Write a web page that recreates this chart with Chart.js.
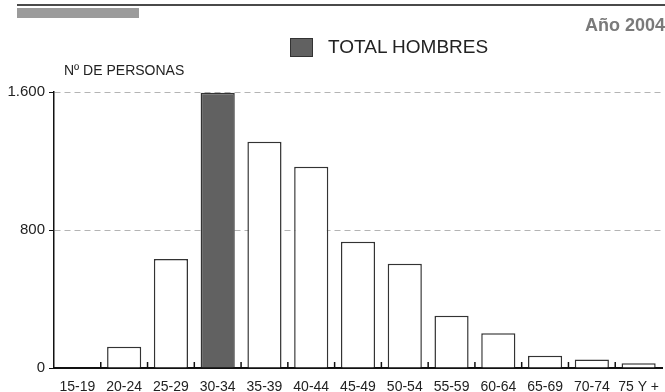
<!DOCTYPE html>
<html>
<head>
<meta charset="utf-8">
<script src="https://cdn.jsdelivr.net/npm/chart.js@4.4.0/dist/chart.umd.min.js"></script>
<style>
  body { margin: 0; background: #fff; }
  #wrap { position: relative; width: 665px; height: 392px; overflow: hidden; font-family: "Liberation Sans", Arial, sans-serif; }
  #topline { position: absolute; left: 17px; width: 648px; top: 4px; height: 2px; background: #4a4a4a; z-index: 2; }
  #greybar { position: absolute; left: 17px; top: 8px; width: 122px; height: 10px; background: #9b9b9b; z-index: 2; }
  #year { position: absolute; right: 0; top: 15px; font-size: 18px; font-weight: bold; color: #7a7a7a; z-index: 2; }
  #legend { position: absolute; left: 290px; top: 37px; height: 20px; display: flex; align-items: center; z-index: 2; }
  #legend .box { width: 21px; height: 17px; background: #616161; border: 1px solid #333; }
  #legend span { margin-left: 15px; font-size: 19px; color: #222; }
  #ylabel { position: absolute; left: 64px; top: 62px; font-size: 14px; color: #222; z-index: 2; }
  canvas { position: absolute; left: 0; top: 0; z-index: 1; }
</style>
</head>
<body>
<div id="wrap">
  <canvas id="chart" width="665" height="392"></canvas>
  <div id="topline"></div>
  <div id="greybar"></div>
  <div id="year">Año 2004</div>
  <div id="legend"><div class="box"></div><span>TOTAL HOMBRES</span></div>
  <div id="ylabel">Nº DE PERSONAS</div>
</div>
<script>
const ageGroups = ["15-19", "20-24", "25-29", "30-34", "35-39", "40-44", "45-49", "50-54", "55-59", "60-64", "65-69", "70-74", "75 Y +"];
const totalHombres = [4, 123, 632, 1595, 1312, 1167, 732, 605, 303, 201, 71, 50, 27];
const yTicks = [0, 800, 1600];
const highlightGroup = "30-34";

const labelFont = { family: "'Liberation Sans', Arial, sans-serif", size: 14 };

// small upward tick marks between categories on the x axis
const innerTicks = {
  id: "innerTicks",
  afterDatasetsDraw(chart) {
    const x = chart.scales.x;
    const ctx = chart.ctx;
    const bottom = chart.chartArea.bottom;
    ctx.save();
    ctx.strokeStyle = "#111";
    ctx.lineWidth = 1.5;
    for (let i = 1; i < ageGroups.length; i++) {
      const px = (x.getPixelForTick(i - 1) + x.getPixelForTick(i)) / 2;
      ctx.beginPath();
      ctx.moveTo(px, bottom);
      ctx.lineTo(px, bottom - 6);
      ctx.stroke();
    }
    ctx.restore();
  },
};

const ctx = document.getElementById("chart").getContext("2d");
new Chart(ctx, {
  type: "bar",
  data: {
    labels: ageGroups,
    datasets: [
      {
        label: "TOTAL HOMBRES",
        data: totalHombres,
        backgroundColor: ageGroups.map((g) => (g === highlightGroup ? "#616161" : "#ffffff")),
        borderColor: "#333333",
        borderWidth: 1.5,
        categoryPercentage: 0.73,
        barPercentage: 1,
      },
    ],
  },
  options: {
    responsive: false,
    animation: false,
    layout: { padding: { top: 92, right: 3, left: 0, bottom: 0 } },
    plugins: {
      legend: { display: false },
      tooltip: { enabled: false },
    },
    scales: {
      x: {
        grid: { display: false },
        border: { color: "#111", width: 2 },
        ticks: {
          color: "#222",
          font: labelFont,
          padding: 3,
          maxRotation: 0,
          autoSkip: false,
        },
        afterFit(scale) { scale.height = 24; },
      },
      y: {
        min: 0,
        max: 1600,
        afterBuildTicks(scale) { scale.ticks = yTicks.map((v) => ({ value: v })); },
        grid: {
          color: (c) => (c.tick && c.tick.value === 0 ? "rgba(0,0,0,0)" : "#b4b4b4"),
          tickColor: "#111",
          tickLength: 5,
          lineWidth: 1,
        },
        border: { color: "#111", width: 1.5, dash: [6, 4] },
        ticks: {
          color: "#222",
          font: { family: labelFont.family, size: 15 },
          padding: 4,
          callback: (v) => v.toLocaleString("de-DE"),
        },
        afterFit(scale) { scale.width = 54; },
      },
    },
  },
  plugins: [innerTicks],
});
</script>
</body>
</html>
